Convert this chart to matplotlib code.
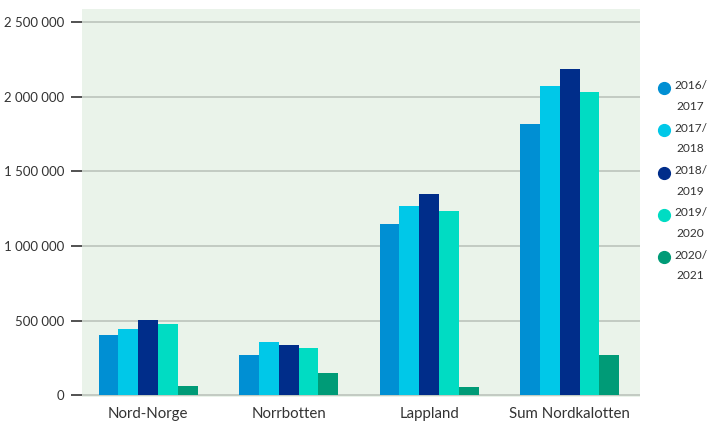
import numpy as np
import matplotlib
matplotlib.use('Agg')
import matplotlib.pyplot as plt
from matplotlib.ticker import FuncFormatter
from matplotlib.lines import Line2D

regions = ['Nord-Norge', 'Norrbotten', 'Lappland', 'Sum Nordkalotten']
seasons = ['2016/\n2017', '2017/\n2018', '2018/\n2019', '2019/\n2020', '2020/\n2021']
v_2016 = [402000, 268000, 1147000, 1818000]
v_2017 = [443000, 356000, 1268000, 2072000]
v_2018 = [503000, 335000, 1348000, 2186000]
v_2019 = [476000, 315000, 1234000, 2032000]
v_2020 = [60000, 148000, 54000, 268000]
series = [v_2016, v_2017, v_2018, v_2019, v_2020]
colors = ['#008FD3', '#00C8E8', '#002D8A', '#00DCC3', '#009B77']

plt.rcParams['font.family'] = ['Lato', 'DejaVu Sans']

fig = plt.figure(figsize=(7.09, 4.22), dpi=100)
ax = fig.add_axes([0.1157, 0.059, 0.787, 0.92])
ax.set_facecolor('#EAF3EA')

x = np.arange(len(regions))
w = 0.141
for i, (vals, c) in enumerate(zip(series, colors)):
    ax.bar(x + (i - 2) * w, vals, width=w, color=c, zorder=3)

ax.set_xlim(-0.47, 3.5)
ax.set_ylim(-12000, 2590000)
ax.set_yticks([0, 500000, 1000000, 1500000, 2000000, 2500000])
ax.yaxis.set_major_formatter(FuncFormatter(lambda v, p: f'{int(v):,}'.replace(',', ' ')))
ax.grid(axis='y', color='#BCC3BC', linewidth=1.2, zorder=1)
for s in ax.spines.values():
    s.set_visible(False)
ax.set_xticks(x)
ax.set_xticklabels(regions)
ax.tick_params(axis='x', length=0, pad=7, labelsize=10.8, labelcolor='#333333')
ax.tick_params(axis='y', length=8, width=1.2, color='#333333', pad=5,
               labelsize=9.5, labelcolor='#333333')

# legend: marker beside first line, label on two centred lines
for i, (lab, c) in enumerate(zip(seasons, colors)):
    yy = 1 - (88 + i * 42.3) / 422
    fig.add_artist(Line2D([664 / 709], [yy], marker='o', markersize=8.5, color=c,
                          linestyle='', transform=fig.transFigure))
    fig.text(674 / 709, yy + 7.5 / 422, lab, ha='left', va='top', fontsize=8.6,
             color='#333333', multialignment='center', linespacing=2.05)

fig.savefig('out.png', dpi=100)
